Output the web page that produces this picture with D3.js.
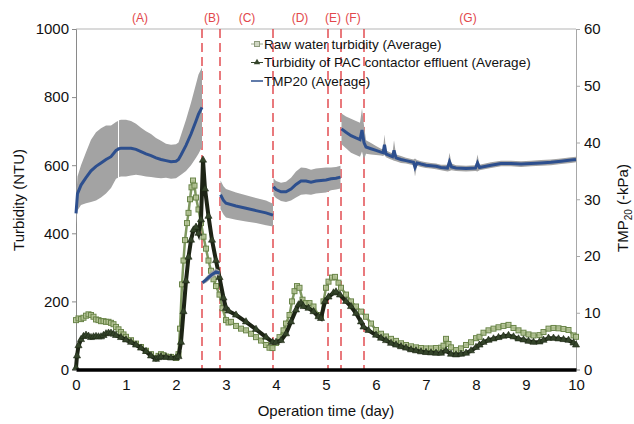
<!DOCTYPE html>
<html>
<head>
<meta charset="utf-8">
<script src="https://cdn.jsdelivr.net/npm/d3@7"></script>
<style>
  body { margin: 0; background: #fff; }
  svg { font-family: "Liberation Sans", Arial, sans-serif; }
</style>
</head>
<body>
<svg id="chart" width="634" height="424"></svg>
<script>
'use strict';

// ---- data ----
const xTicks = [0, 1, 2, 3, 4, 5, 6, 7, 8, 9, 10];
const leftTicks = [0, 200, 400, 600, 800, 1000];
const rightTicks = [0, 10, 20, 30, 40, 50, 60];

const phaseLabels = ["(A)", "(B)", "(C)", "(D)", "(E)", "(F)", "(G)"];
const phaseLabelDays = [1.28, 2.72, 3.42, 4.48, 5.14, 5.54, 7.84];
const phaseBounds = [2.52, 2.88, 3.94, 5.04, 5.30, 5.76];

const rawDays = [0, 0.05, 0.1, 0.15, 0.2, 0.25, 0.3, 0.35, 0.4, 0.45, 0.5, 0.55, 0.6, 0.65, 0.7, 0.75, 0.8, 0.85, 0.9, 0.95,
  1.0, 1.1, 1.2, 1.3, 1.4, 1.5, 1.6, 1.65, 1.7, 1.75, 1.8, 1.9, 2.0, 2.05, 2.08, 2.12, 2.15, 2.18, 2.22, 2.25,
  2.28, 2.31, 2.34, 2.37, 2.4, 2.45, 2.5, 2.55, 2.6, 2.65, 2.7, 2.75, 2.8, 2.87, 2.93, 3.0, 3.05, 3.1, 3.2, 3.3,
  3.4, 3.5, 3.6, 3.7, 3.8, 3.87, 3.93, 4.0, 4.07, 4.15, 4.2, 4.27, 4.32, 4.37, 4.42, 4.47, 4.53, 4.6, 4.67, 4.75,
  4.85, 4.9, 4.95, 5.0, 5.05, 5.12, 5.18, 5.25, 5.3, 5.4, 5.5, 5.6, 5.7, 5.8, 5.9, 6.0, 6.1, 6.2, 6.3, 6.4,
  6.5, 6.6, 6.7, 6.8, 6.9, 7.0, 7.1, 7.2, 7.3, 7.35, 7.4, 7.45, 7.5, 7.6, 7.7, 7.8, 7.9, 8.0, 8.07, 8.15,
  8.25, 8.35, 8.45, 8.55, 8.65, 8.75, 8.85, 8.95, 9.05, 9.15, 9.27, 9.35, 9.45, 9.55, 9.65, 9.75, 9.85, 9.95, 10.0];
const rawNTU = [145, 150, 148, 152, 158, 162, 160, 155, 147, 145, 142, 142, 140, 140, 137, 133, 125, 118, 110, 103,
  96, 86, 76, 66, 55, 45, 34, 40, 45, 42, 38, 37, 34, 45, 120, 250, 320, 380, 430, 460,
  500, 535, 555, 540, 505, 470, 430, 390, 355, 320, 290, 265, 245, 220, 180, 145, 138, 140, 128, 120,
  115, 105, 95, 85, 72, 64, 63, 78, 95, 115, 135, 160, 200, 230, 245, 240, 205, 195, 195, 185,
  160, 155, 200, 240, 258, 270, 272, 255, 240, 220, 200, 185, 170, 155, 135, 116, 105, 97, 90, 84,
  77, 72, 68, 65, 63, 62, 62, 63, 64, 70, 90, 75, 65, 57, 62, 72, 80, 92, 96, 108,
  115, 120, 124, 128, 131, 122, 115, 108, 103, 100, 101, 110, 120, 122, 121, 119, 116, 100, 96];

const effDays = [0, 0.02, 0.05, 0.1, 0.15, 0.2, 0.25, 0.3, 0.35, 0.4, 0.45, 0.5, 0.55, 0.6, 0.65, 0.7, 0.75, 0.8, 0.9, 1.0,
  1.1, 1.2, 1.3, 1.4, 1.5, 1.6, 1.65, 1.7, 1.8, 1.9, 2.0, 2.05, 2.1, 2.15, 2.2, 2.25, 2.3, 2.35, 2.4, 2.45,
  2.5, 2.54, 2.58, 2.65, 2.72, 2.8, 2.87, 2.95, 3.0, 3.05, 3.2, 3.4, 3.6, 3.8, 3.93, 4.0, 4.1, 4.2, 4.3, 4.4,
  4.45, 4.5, 4.55, 4.65, 4.75, 4.85, 4.9, 4.98, 5.05, 5.15, 5.2, 5.28, 5.4, 5.5, 5.6, 5.7, 5.75, 5.85, 6.0, 6.1,
  6.2, 6.3, 6.4, 6.5, 6.6, 6.7, 6.8, 6.9, 7.0, 7.1, 7.2, 7.3, 7.4, 7.5, 7.6, 7.7, 7.8, 7.9, 8.0, 8.07,
  8.15, 8.25, 8.35, 8.45, 8.55, 8.65, 8.75, 8.85, 8.95, 9.05, 9.15, 9.27, 9.35, 9.45, 9.55, 9.65, 9.75, 9.85, 9.95, 10.0];
const effNTU = [5, 40, 70, 88, 97, 101, 98, 94, 96, 97, 96, 96, 100, 105, 107, 107, 104, 100, 94, 87,
  80, 72, 63, 53, 40, 30, 35, 37, 36, 34, 34, 38, 80, 170, 260, 330, 380, 410, 418, 400,
  440, 615, 530, 450, 380, 320, 270, 210, 180, 172, 160, 140, 118, 95, 80, 80, 85, 105, 140, 175,
  190, 195, 185, 180, 170, 155, 150, 200, 213, 225, 228, 219, 200, 185, 165, 140, 125, 115, 101, 92,
  85, 77, 72, 67, 63, 58, 55, 52, 50, 49, 48, 48, 55, 45, 43, 45, 48, 55, 65, 72,
  80, 86, 90, 94, 98, 100, 96, 90, 87, 83, 80, 81, 86, 92, 92, 90, 88, 86, 78, 72];

// TMP20: null rows split the phases, a null sd leaves the thin white gap near day 0.85
const tmpDays = [0, 0.03, 0.1, 0.2, 0.3, 0.4, 0.5, 0.6, 0.7, 0.8, 0.84, 0.85, 0.86, 0.9, 1.0, 1.1, 1.2, 1.3, 1.4, 1.5,
  1.6, 1.7, 1.8, 1.9, 2.0, 2.05, 2.1, 2.2, 2.3, 2.4, 2.45, 2.52, null,
  2.53, 2.6, 2.7, 2.8, 2.87, null,
  2.89, 2.95, 3.0, 3.2, 3.4, 3.6, 3.8, 3.94, null,
  3.95, 4.0, 4.1, 4.2, 4.3, 4.4, 4.5, 4.6, 4.7, 4.8, 4.9, 5.0, 5.1, 5.2, 5.29, null,
  5.31, 5.4, 5.5, 5.6, 5.68, 5.72, 5.76, 5.8, 5.9, 6.0, 6.1, 6.14, 6.17, 6.2, 6.3, 6.33, 6.36, 6.4, 6.5, 6.6,
  6.75, 6.78, 6.82, 6.9, 7.0, 7.1, 7.2, 7.3, 7.43, 7.47, 7.51, 7.6, 7.8, 7.99, 8.03, 8.07, 8.3, 8.5, 8.7, 8.9,
  9.1, 9.3, 9.5, 9.7, 9.9, 10.0];
const tmpMean = [27.5, 31.0, 32.5, 33.8, 35.0, 35.8, 36.4, 37.0, 37.5, 38.6, 38.8, 38.9, 38.9, 39.0, 39.0, 39.0, 38.8, 38.4, 38.0, 37.7,
  37.3, 37.0, 36.8, 36.6, 36.7, 37.0, 37.8, 39.5, 41.5, 43.8, 45.0, 46.2, null,
  15.3, 15.8, 16.6, 17.2, 17.0, null,
  30.8, 29.8, 29.3, 28.8, 28.4, 28.0, 27.6, 27.2, null,
  32.2, 31.7, 31.3, 31.3, 31.8, 32.6, 33.2, 33.2, 33.0, 33.2, 33.3, 33.4, 33.6, 33.7, 33.9, null,
  42.4, 41.8, 41.2, 40.8, 40.5, 42.2, 40.0, 39.2, 38.9, 38.6, 38.3, 38.2, 39.6, 38.0, 37.6, 37.5, 38.6, 37.3, 37.0, 36.8,
  36.5, 35.6, 36.4, 36.2, 36.0, 35.9, 35.8, 35.6, 35.5, 36.6, 35.7, 35.5, 35.4, 35.5, 36.4, 35.6, 36.0, 36.3, 36.3, 36.2,
  36.3, 36.4, 36.5, 36.7, 36.9, 37.0];
const tmpSd = [2.0, 3.0, 3.5, 4.5, 5.5, 6.0, 6.1, 6.0, 5.5, 5.0, 5.0, null, 5.0, 5.0, 5.0, 4.8, 4.5, 4.2, 4.0, 3.8,
  3.5, 3.3, 3.0, 3.0, 3.0, 3.0, 3.5, 4.5, 5.5, 6.5, 7.0, 7.0, null,
  0.3, 0.5, 0.6, 0.6, 0.5, null,
  2.5, 2.5, 2.5, 2.4, 2.3, 2.2, 2.2, 2.0, null,
  1.5, 1.5, 1.6, 1.8, 2.0, 2.3, 2.4, 2.3, 2.2, 2.2, 2.2, 2.2, 2.0, 2.0, 2.0, null,
  2.7, 2.8, 3.0, 3.0, 3.0, 3.8, 3.0, 1.2, 1.0, 0.8, 0.6, 0.6, 1.8, 0.6, 0.6, 0.6, 1.8, 0.6, 0.6, 0.5,
  0.5, 1.6, 0.5, 0.5, 0.5, 0.5, 0.5, 0.5, 0.6, 1.6, 0.6, 0.5, 0.5, 0.5, 1.5, 0.5, 0.5, 0.5, 0.5, 0.5,
  0.5, 0.5, 0.5, 0.5, 0.5, 0.5];

const legendItems = ["Raw water turbidity (Average)", "Turbidity of PAC contactor effluent (Average)", "TMP20 (Average)"];

// ---- drawing ----
const svg = d3.select("#chart");
const margin = { top: 29, right: 58, bottom: 54, left: 76 };
const W = 634, H = 424;

const x = d3.scaleLinear().domain([0, 10]).range([margin.left, W - margin.right]);
const yL = d3.scaleLinear().domain([0, 1000]).range([H - margin.bottom - 0.5, margin.top]);
const yR = d3.scaleLinear().domain([0, 60]).range([H - margin.bottom - 0.5, margin.top]);

const raw = rawDays.map((d, i) => ({ day: d, v: rawNTU[i] }));
const eff = effDays.map((d, i) => ({ day: d, v: effNTU[i] }));
const tmp = tmpDays.map((d, i) => ({ day: d, m: tmpMean[i], sd: tmpSd[i] }));

const red = "#e2474b";
const blue = "#2d4f8e";

// frame: top border and axes
svg.append("line")
  .attr("x1", x(0)).attr("x2", x(10))
  .attr("y1", yL(1000)).attr("y2", yL(1000))
  .attr("stroke", "#b5b5b5").attr("stroke-width", 1.2);

const gL = svg.append("g").attr("transform", "translate(" + x(0) + ",0)")
  .call(d3.axisLeft(yL).tickValues(leftTicks).tickFormat(d3.format("d")).tickSize(4).tickPadding(3));
gL.select(".domain").attr("stroke", "#8a8a8a");
gL.selectAll(".tick line").attr("stroke", "#8a8a8a");
gL.selectAll("text").attr("font-size", 15).attr("fill", "#111");

const gR = svg.append("g").attr("transform", "translate(" + x(10) + ",0)")
  .call(d3.axisRight(yR).tickValues(rightTicks).tickSize(4).tickPadding(4));
gR.select(".domain").attr("stroke", "#a8a8a8");
gR.selectAll(".tick line").attr("stroke", "#a8a8a8");
gR.selectAll("text").attr("font-size", 15).attr("fill", "#111");

// phase boundaries
svg.append("g").selectAll("line")
  .data(phaseBounds)
  .enter().append("line")
  .attr("x1", d => x(d)).attr("x2", d => x(d))
  .attr("y1", yL(1000)).attr("y2", yL(0))
  .attr("stroke", red).attr("stroke-width", 1.6)
  .attr("stroke-dasharray", "9,5").attr("opacity", 0.9);

svg.append("g").selectAll("text")
  .data(phaseLabels)
  .enter().append("text")
  .attr("x", (d, i) => x(phaseLabelDays[i]))
  .attr("y", 22)
  .attr("text-anchor", "middle")
  .attr("font-size", 12)
  .attr("fill", red)
  .text(d => d);

// turbidity series
const lineL = d3.line().x(d => x(d.day)).y(d => yL(d.v));

svg.append("path").datum(raw)
  .attr("d", lineL).attr("fill", "none")
  .attr("stroke", "#7f9860").attr("stroke-width", 2.5);
svg.append("g").selectAll("rect")
  .data(raw)
  .enter().append("rect")
  .attr("x", d => x(d.day) - 2.5).attr("y", d => yL(d.v) - 2.5)
  .attr("width", 5).attr("height", 5)
  .attr("fill", "#b3c294").attr("fill-opacity", 0.85)
  .attr("stroke", "#6a8549").attr("stroke-width", 1);

svg.append("path").datum(eff)
  .attr("d", lineL).attr("fill", "none")
  .attr("stroke", "#1d2415").attr("stroke-width", 4);
const tri = d3.symbol().type(d3.symbolTriangle).size(22);
svg.append("g").selectAll("path")
  .data(eff)
  .enter().append("path")
  .attr("d", tri)
  .attr("transform", d => "translate(" + x(d.day) + "," + yL(d.v) + ")")
  .attr("fill", "#34442a").attr("stroke", "#1f2a16").attr("stroke-width", 0.6);

// TMP band and mean line
const band = d3.area()
  .defined(d => d.day != null && d.sd != null)
  .x(d => x(d.day))
  .y0(d => yR(d.m - d.sd))
  .y1(d => yR(d.m + d.sd));
svg.append("path").datum(tmp)
  .attr("d", band).attr("fill", "#a3a3a3");

const lineR = d3.line()
  .defined(d => d.day != null && d.m != null)
  .x(d => x(d.day)).y(d => yR(d.m));
svg.append("path").datum(tmp)
  .attr("d", lineR).attr("fill", "none")
  .attr("stroke", blue).attr("stroke-width", 3);

// x axis: thick black base line
const gX = svg.append("g").attr("transform", "translate(0," + yL(0) + ")")
  .call(d3.axisBottom(x).tickValues(xTicks).tickSize(0).tickPadding(10));
gX.select(".domain").attr("stroke", "#000").attr("stroke-width", 3.5);
gX.selectAll("text").attr("font-size", 15).attr("fill", "#111");

// axis titles
svg.append("text")
  .attr("x", x(5)).attr("y", 416)
  .attr("text-anchor", "middle").attr("font-size", 15).attr("fill", "#111")
  .text("Operation time (day)");

svg.append("text")
  .attr("transform", "translate(24,200) rotate(-90)")
  .attr("text-anchor", "middle").attr("font-size", 15).attr("fill", "#111")
  .text("Turbidity (NTU)");

const tR = svg.append("text")
  .attr("transform", "translate(628,208) rotate(-90)")
  .attr("text-anchor", "middle").attr("font-size", 15).attr("fill", "#111");
tR.append("tspan").text("TMP");
tR.append("tspan").attr("font-size", 10).attr("dy", 4).text("20");
tR.append("tspan").attr("dy", -4).text(" (-kPa)");

// legend
const lg = svg.append("g").attr("transform", "translate(257,44)");
const rows = lg.selectAll("g")
  .data(legendItems)
  .enter().append("g")
  .attr("transform", (d, i) => "translate(0," + i * 18.5 + ")");
rows.append("line")
  .attr("x1", -6).attr("x2", 6)
  .attr("stroke", (d, i) => [ "#9aa88a", "#34442a", blue ][i])
  .attr("stroke-width", (d, i) => i == 2 ? 1.5 : 1);
rows.filter((d, i) => i == 0).append("rect")
  .attr("x", -2.5).attr("y", -2.5).attr("width", 5).attr("height", 5)
  .attr("fill", "#cfd6c2").attr("stroke", "#8d9a7c");
rows.filter((d, i) => i == 1).append("path")
  .attr("d", d3.symbol().type(d3.symbolTriangle).size(18))
  .attr("fill", "#34442a");
rows.append("text")
  .attr("x", 7).attr("y", 4.5)
  .attr("font-size", 13.5).attr("fill", "#111")
  .text(d => d);
</script>
</body>
</html>
